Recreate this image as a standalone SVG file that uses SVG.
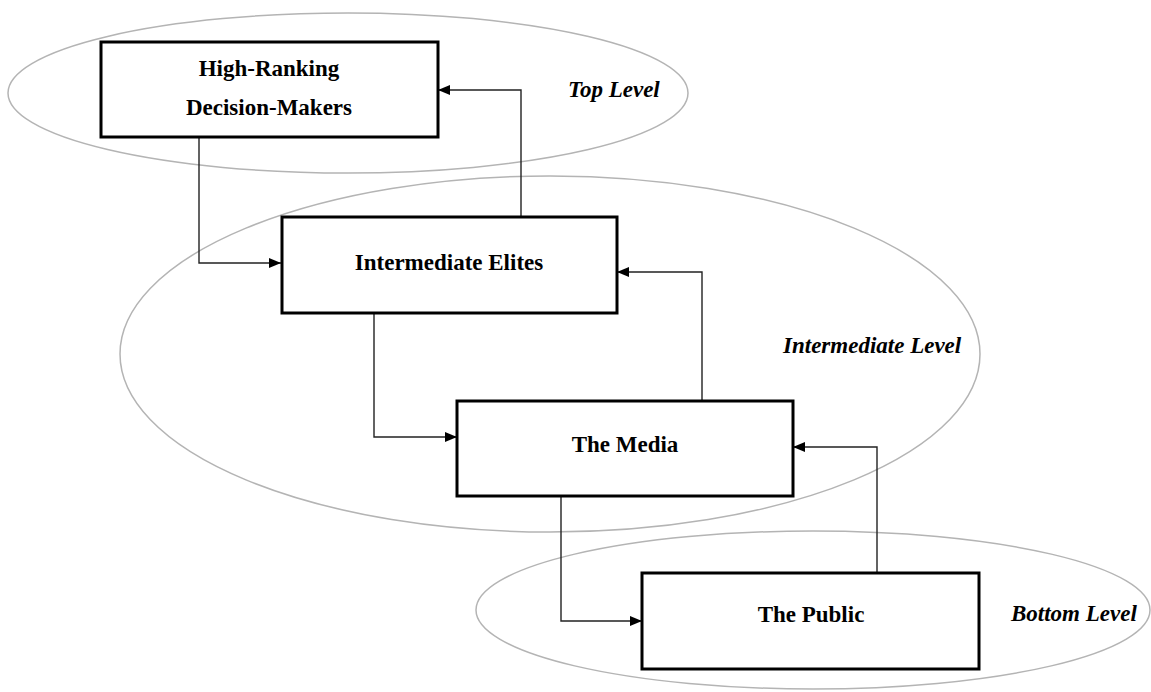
<svg xmlns="http://www.w3.org/2000/svg" width="1151" height="692" viewBox="0 0 1151 692">
  <style>
    .level { fill: none; stroke: #b4b4b4; stroke-width: 1.5; }
    .box { fill: #ffffff; stroke: #000000; stroke-width: 3; }
    .name { font-family: "Liberation Serif", "Times New Roman", serif; font-weight: bold; font-size: 23px; fill: #000; text-anchor: middle; }
    .tag { font-family: "Liberation Serif", "Times New Roman", serif; font-weight: bold; font-style: italic; font-size: 23px; fill: #000; }
    .link { fill: none; stroke: #222; stroke-width: 1.4; }
  </style>
  <defs>
    <marker id="arrow" viewBox="0 0 12 10" refX="12" refY="5" markerWidth="12" markerHeight="10" markerUnits="userSpaceOnUse" orient="auto">
      <path d="M0,0 L12,5 L0,10 Z" fill="#000"/>
    </marker>
  </defs>
  <rect width="1151" height="692" fill="#ffffff"/>

  <!-- level ellipses -->
  <g id="levels">
    <ellipse class="level" cx="348" cy="93" rx="340" ry="80"/>
    <ellipse class="level" cx="550" cy="354" rx="430" ry="178"/>
    <ellipse class="level" cx="813" cy="610" rx="337" ry="79"/>
  </g>

  <!-- connectors -->
  <g id="connectors">
    <polyline class="link" points="199,137 199,263 281,263" marker-end="url(#arrow)"/>
    <polyline class="link" points="521,217 521,90 438,90" marker-end="url(#arrow)"/>
    <polyline class="link" points="374,313 374,437 457,437" marker-end="url(#arrow)"/>
    <polyline class="link" points="702,401 702,272 617,272" marker-end="url(#arrow)"/>
    <polyline class="link" points="561,496 561,621 642,621" marker-end="url(#arrow)"/>
    <polyline class="link" points="877,573 877,447 793,447" marker-end="url(#arrow)"/>
  </g>

  <g id="decision-makers">
    <rect class="box" x="101" y="42" width="337" height="95"/>
    <text class="name" x="269" y="76">High-Ranking</text>
    <text class="name" x="269" y="115">Decision-Makers</text>
  </g>
  <g id="elites">
    <rect class="box" x="282" y="217" width="335" height="96"/>
    <text class="name" x="449" y="270">Intermediate Elites</text>
  </g>
  <g id="media">
    <rect class="box" x="457" y="401" width="336" height="95"/>
    <text class="name" x="625" y="452">The Media</text>
  </g>
  <g id="public">
    <rect class="box" x="642" y="573" width="337" height="96"/>
    <text class="name" x="811" y="622">The Public</text>
  </g>

  <g id="level-labels">
    <text class="tag" x="568" y="97">Top Level</text>
    <text class="tag" x="783" y="353">Intermediate Level</text>
    <text class="tag" x="1011" y="621">Bottom Level</text>
  </g>
</svg>
